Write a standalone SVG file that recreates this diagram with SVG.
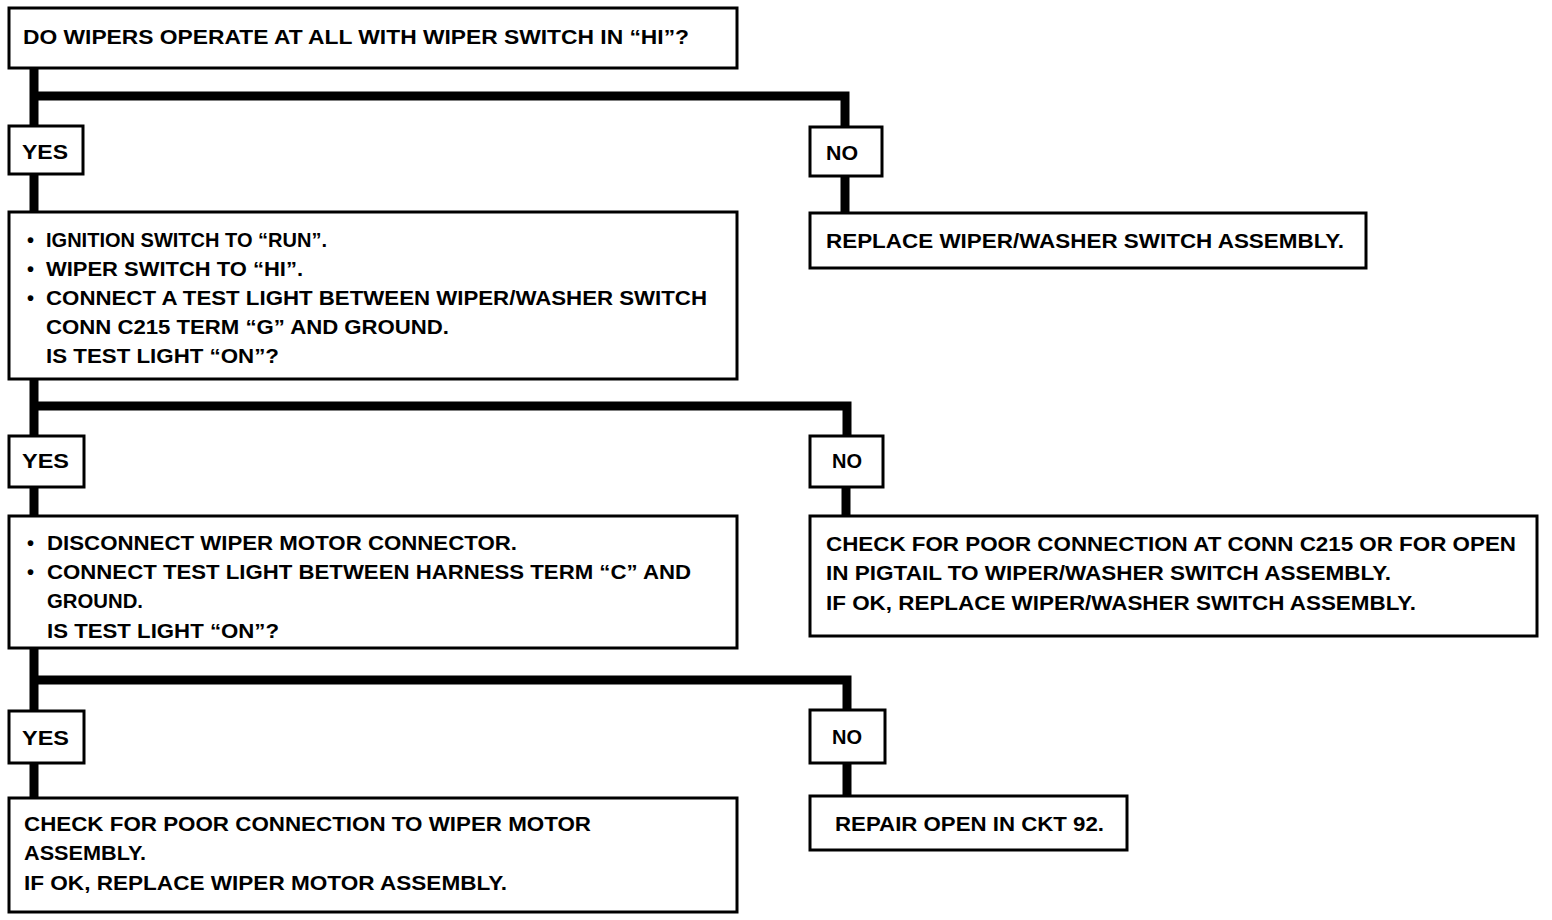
<svg xmlns="http://www.w3.org/2000/svg" width="1552" height="920" viewBox="0 0 1552 920">
<style>
  .box { fill: #ffffff; stroke: #000000; stroke-width: 3; }
  .t { font-family: "Liberation Sans", Arial, Helvetica, sans-serif; font-weight: bold; font-size: 20px; fill: #000000; }
  .conn { fill: none; stroke: #000000; stroke-width: 9; stroke-linejoin: miter; stroke-linecap: butt; }
</style>
<rect width="1552" height="920" fill="#ffffff"/>
<g id="connectors">
  <path class="conn" d="M34 68 V126 M34 96 H845 V127"/>
  <path class="conn" d="M34 174 V212"/>
  <path class="conn" d="M845 176 V213"/>
  <path class="conn" d="M34 379 V436 M34 406 H847 V436"/>
  <path class="conn" d="M34 487 V516"/>
  <path class="conn" d="M846 487 V516"/>
  <path class="conn" d="M34 648 V711 M34 680 H847 V710"/>
  <path class="conn" d="M34 763 V798"/>
  <path class="conn" d="M847 763 V796"/>
</g>
<g id="q1">
  <rect class="box" x="9" y="8" width="728" height="60"/>
  <text class="t" x="23" y="44" textLength="666" lengthAdjust="spacingAndGlyphs">DO WIPERS OPERATE AT ALL WITH WIPER SWITCH IN “HI”?</text>
</g>
<g id="yes1">
  <rect class="box" x="9" y="126" width="74" height="48"/>
  <text class="t" x="22" y="159" textLength="46" lengthAdjust="spacingAndGlyphs">YES</text>
</g>
<g id="no1">
  <rect class="box" x="810" y="127" width="72" height="49"/>
  <text class="t" x="826" y="160" textLength="32" lengthAdjust="spacingAndGlyphs">NO</text>
</g>
<g id="replace-switch">
  <rect class="box" x="810" y="213" width="556" height="55"/>
  <text class="t" x="826" y="248" textLength="518" lengthAdjust="spacingAndGlyphs">REPLACE WIPER/WASHER SWITCH ASSEMBLY.</text>
</g>
<g id="q2">
  <rect class="box" x="9" y="212" width="728" height="167"/>
  <text class="t" x="27" y="247">•</text>
  <text class="t" x="46" y="247" textLength="281" lengthAdjust="spacingAndGlyphs">IGNITION SWITCH TO “RUN”.</text>
  <text class="t" x="27" y="276">•</text>
  <text class="t" x="46" y="276" textLength="257" lengthAdjust="spacingAndGlyphs">WIPER SWITCH TO “HI”.</text>
  <text class="t" x="27" y="305">•</text>
  <text class="t" x="46" y="305" textLength="661" lengthAdjust="spacingAndGlyphs">CONNECT A TEST LIGHT BETWEEN WIPER/WASHER SWITCH</text>
  <text class="t" x="46" y="334" textLength="403" lengthAdjust="spacingAndGlyphs">CONN C215 TERM “G” AND GROUND.</text>
  <text class="t" x="46" y="363" textLength="233" lengthAdjust="spacingAndGlyphs">IS TEST LIGHT “ON”?</text>
</g>
<g id="yes2">
  <rect class="box" x="9" y="436" width="75" height="51"/>
  <text class="t" x="22" y="468" textLength="47" lengthAdjust="spacingAndGlyphs">YES</text>
</g>
<g id="no2">
  <rect class="box" x="810" y="436" width="73" height="51"/>
  <text class="t" x="832" y="468" textLength="30" lengthAdjust="spacingAndGlyphs">NO</text>
</g>
<g id="check-c215">
  <rect class="box" x="810" y="516" width="727" height="120"/>
  <text class="t" x="826" y="551" textLength="690" lengthAdjust="spacingAndGlyphs">CHECK FOR POOR CONNECTION AT CONN C215 OR FOR OPEN</text>
  <text class="t" x="826" y="580" textLength="565" lengthAdjust="spacingAndGlyphs">IN PIGTAIL TO WIPER/WASHER SWITCH ASSEMBLY.</text>
  <text class="t" x="826" y="610" textLength="590" lengthAdjust="spacingAndGlyphs">IF OK, REPLACE WIPER/WASHER SWITCH ASSEMBLY.</text>
</g>
<g id="q3">
  <rect class="box" x="9" y="516" width="728" height="132"/>
  <text class="t" x="27" y="550">•</text>
  <text class="t" x="47" y="550" textLength="470" lengthAdjust="spacingAndGlyphs">DISCONNECT WIPER MOTOR CONNECTOR.</text>
  <text class="t" x="27" y="579">•</text>
  <text class="t" x="47" y="579" textLength="644" lengthAdjust="spacingAndGlyphs">CONNECT TEST LIGHT BETWEEN HARNESS TERM “C” AND</text>
  <text class="t" x="47" y="608" textLength="96" lengthAdjust="spacingAndGlyphs">GROUND.</text>
  <text class="t" x="47" y="638" textLength="232" lengthAdjust="spacingAndGlyphs">IS TEST LIGHT “ON”?</text>
</g>
<g id="yes3">
  <rect class="box" x="9" y="711" width="75" height="52"/>
  <text class="t" x="22" y="745" textLength="47" lengthAdjust="spacingAndGlyphs">YES</text>
</g>
<g id="no3">
  <rect class="box" x="810" y="710" width="75" height="53"/>
  <text class="t" x="832" y="744" textLength="30" lengthAdjust="spacingAndGlyphs">NO</text>
</g>
<g id="check-motor">
  <rect class="box" x="9" y="798" width="728" height="114"/>
  <text class="t" x="24" y="831" textLength="567" lengthAdjust="spacingAndGlyphs">CHECK FOR POOR CONNECTION TO WIPER MOTOR</text>
  <text class="t" x="24" y="860" textLength="122" lengthAdjust="spacingAndGlyphs">ASSEMBLY.</text>
  <text class="t" x="24" y="890" textLength="483" lengthAdjust="spacingAndGlyphs">IF OK, REPLACE WIPER MOTOR ASSEMBLY.</text>
</g>
<g id="repair">
  <rect class="box" x="810" y="796" width="317" height="54"/>
  <text class="t" x="835" y="831" textLength="269" lengthAdjust="spacingAndGlyphs">REPAIR OPEN IN CKT 92.</text>
</g>
</svg>
